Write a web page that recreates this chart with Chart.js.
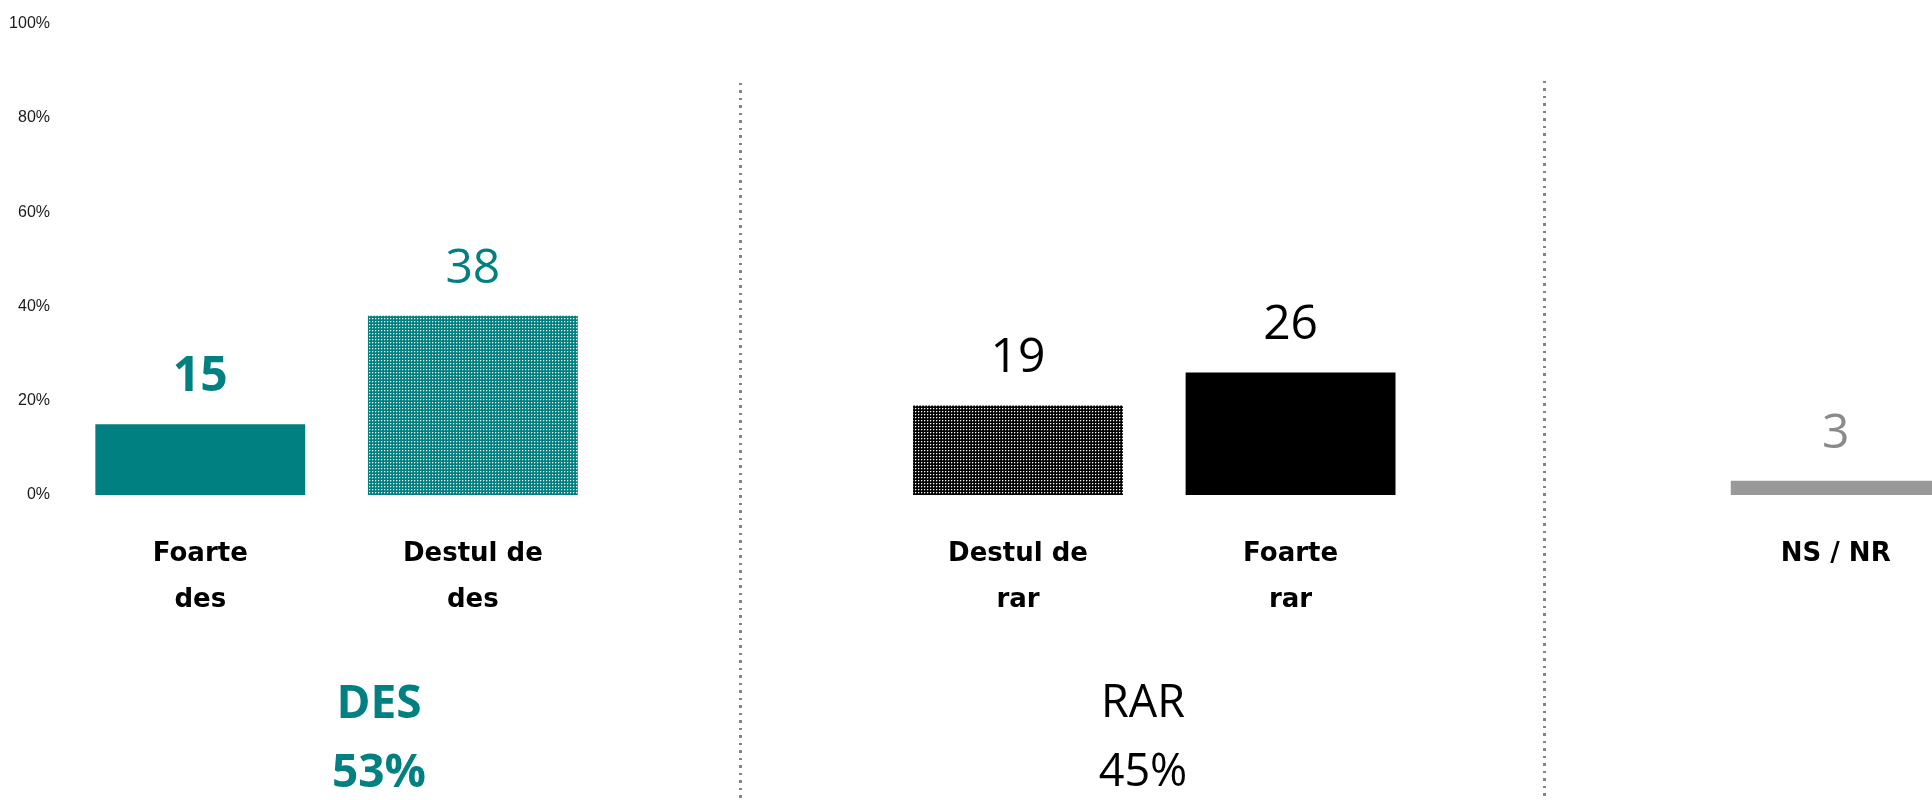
<!DOCTYPE html>
<html>
<head>
<meta charset="utf-8">
<script src="https://cdn.jsdelivr.net/npm/chart.js@4.4.1/dist/chart.umd.min.js"></script>
<style>
html,body{margin:0;padding:0;background:#fff;width:1932px;height:800px;overflow:hidden;}
#wrap{position:absolute;left:0;top:0;width:1972px;height:800px;}
.sep{position:absolute;bottom:0;width:2.5px;background:repeating-linear-gradient(to bottom,#858585 0 2.5px,transparent 2.5px 7.5px);}
.grp{position:absolute;transform:translateX(-50%);font-family:'Open Sans',sans-serif;white-space:nowrap;}
</style>
</head>
<body>
<div id="wrap"><canvas id="c"></canvas></div>
<div class="sep" style="left:739px;top:83px"></div>
<div class="sep" style="left:1543px;top:81px"></div>
<script>
// ---- data ----
const categories = [['Foarte','des'], ['Destul de','des'], '', ['Destul de','rar'], ['Foarte','rar'], '', ['NS / NR']];
const values = [15, 38, null, 19, 26, null, 3];
const yTicks = [0, 20, 40, 60, 80, 100];
const groupNames = ['DES', 'RAR'];
const groupTotals = [53, 45];

// ---- styles ----
const TEAL = '#008080';
function dotPattern(base){
  const c = document.createElement('canvas'); c.width = 3; c.height = 3;
  const x = c.getContext('2d');
  x.fillStyle = base; x.fillRect(0,0,3,3);
  x.fillStyle = 'rgba(255,255,255,1)'; x.fillRect(0,0,1,1);
  x.fillStyle = 'rgba(255,255,255,0.3)'; x.fillRect(1,0,1,1); x.fillRect(0,1,1,1);
  return x.createPattern(c,'repeat');
}
const barColors = [TEAL, dotPattern(TEAL), 'rgba(0,0,0,0)', dotPattern('#000'), '#000', 'rgba(0,0,0,0)', '#999999'];
const labelColors = [TEAL, TEAL, null, '#000', '#000', null, '#8a8a8a'];
const labelWeights = ['bold', 'normal', null, 'normal', 'normal', null, 'normal'];

const valueLabels = {
  id: 'valueLabels',
  afterDatasetsDraw(chart){
    const ctx = chart.ctx;
    const meta = chart.getDatasetMeta(0);
    meta.data.forEach((bar, i) => {
      const v = values[i];
      if (v == null) return;
      ctx.save();
      ctx.font = labelWeights[i] + ' 48px "Open Sans"';
      ctx.fillStyle = labelColors[i];
      ctx.textAlign = 'center';
      ctx.textBaseline = 'alphabetic';
      ctx.fillText(String(v), bar.x, bar.y - 33);
      ctx.restore();
    });
  }
};

new Chart(document.getElementById('c'), {
  type: 'bar',
  data: {
    labels: categories,
    datasets: [{ data: values, backgroundColor: barColors, borderWidth: 0, barPercentage: 0.77, categoryPercentage: 1.0 }]
  },
  options: {
    responsive: true,
    maintainAspectRatio: false,
    animation: false,
    layout: { padding: { top: 23, right: 0, bottom: 0, left: 0 } },
    plugins: { legend: { display: false }, tooltip: { enabled: false } },
    scales: {
      x: {
        grid: { display: false, drawTicks: false },
        border: { display: false },
        ticks: { font: { family: 'DejaVu Sans', size: 26, weight: 'bold', lineHeight: 46/26 }, color: '#000', padding: 36, autoSkip: false, maxRotation: 0, minRotation: 0 },
        afterFit(s){ s.height = 305; }
      },
      y: {
        min: 0, max: 100,
        afterBuildTicks(s){ s.ticks = yTicks.map(v => ({ value: v })); },
        grid: { display: false, drawTicks: false },
        border: { display: false },
        ticks: { callback: v => v + '%', font: { family: 'Liberation Sans', size: 16 }, color: '#1a1a1a', padding: 14 },
        afterFit(s){ s.width = 64; }
      }
    }
  },
  plugins: [valueLabels]
});

// group summary labels
const groupX = [379, 1143];
const groupStyle = [{w:700,c:TEAL,s:46},{w:400,c:'#000',s:45}];
groupNames.forEach((n, i) => {
  const st = groupStyle[i];
  [n, groupTotals[i] + '%'].forEach((t, j) => {
    const d = document.createElement('div');
    d.className = 'grp';
    d.textContent = t;
    d.style.left = groupX[i] + 'px';
    d.style.top = (677 + j*69) + 'px';
    d.style.fontSize = st.s + 'px';
    d.style.lineHeight = st.s + 'px';
    d.style.fontWeight = st.w;
    d.style.color = st.c;
    document.body.appendChild(d);
  });
});
</script>
</body>
</html>
